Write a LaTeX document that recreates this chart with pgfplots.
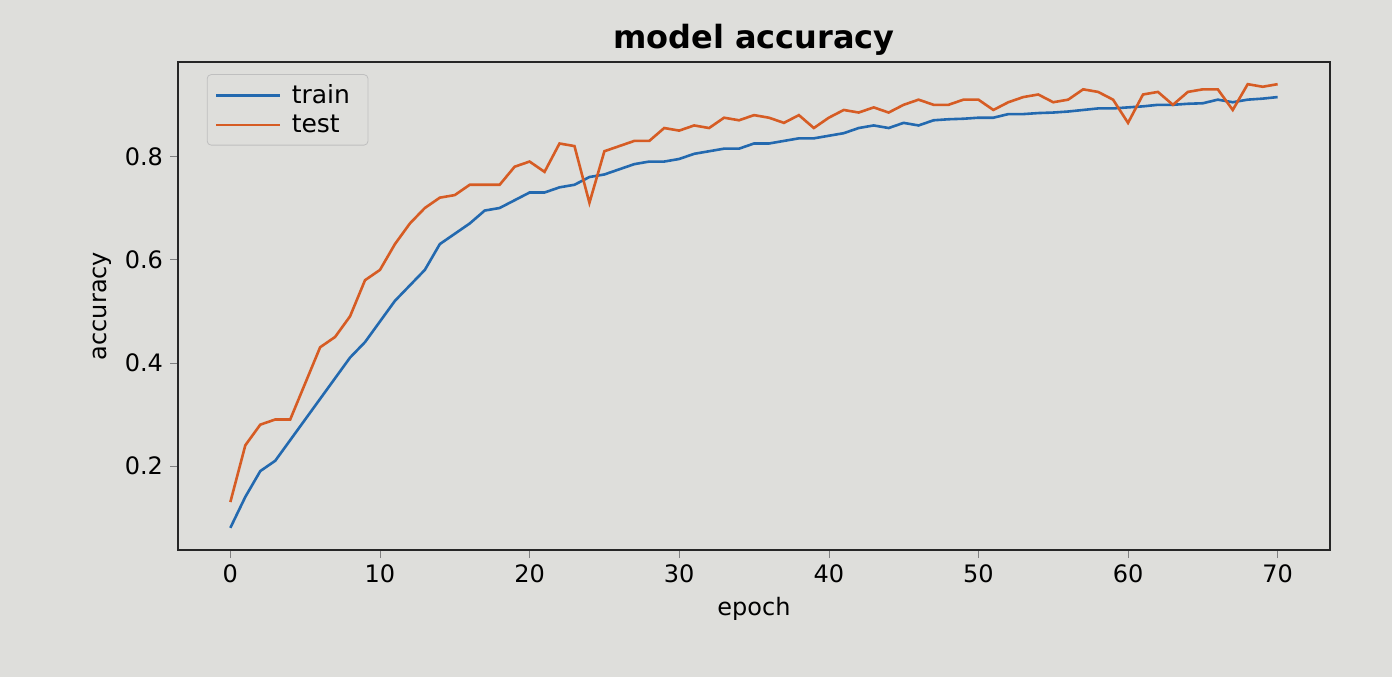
\documentclass[border=0pt]{standalone}
\usepackage{fontspec}
\setmainfont{DejaVu Sans}
\usepackage{pgfplots}
\pgfplotsset{compat=1.18}

\definecolor{photobg}{RGB}{222,222,219}
\definecolor{trainblue}{RGB}{35,105,175}
\definecolor{testorange}{RGB}{214,92,36}

\pgfplotstableread{
epoch train test
0 0.080 0.130
1 0.140 0.240
2 0.190 0.280
3 0.210 0.290
4 0.250 0.290
5 0.290 0.360
6 0.330 0.430
7 0.370 0.450
8 0.410 0.490
9 0.440 0.560
10 0.480 0.580
11 0.520 0.630
12 0.550 0.670
13 0.580 0.700
14 0.630 0.720
15 0.650 0.725
16 0.670 0.745
17 0.695 0.745
18 0.700 0.745
19 0.715 0.780
20 0.730 0.790
21 0.730 0.770
22 0.740 0.825
23 0.745 0.820
24 0.760 0.710
25 0.765 0.810
26 0.775 0.820
27 0.785 0.830
28 0.790 0.830
29 0.790 0.855
30 0.795 0.850
31 0.805 0.860
32 0.810 0.855
33 0.815 0.875
34 0.815 0.870
35 0.825 0.880
36 0.825 0.875
37 0.830 0.865
38 0.835 0.880
39 0.835 0.855
40 0.840 0.875
41 0.845 0.890
42 0.855 0.885
43 0.860 0.895
44 0.855 0.885
45 0.865 0.900
46 0.860 0.910
47 0.870 0.900
48 0.872 0.900
49 0.873 0.910
50 0.875 0.910
51 0.875 0.890
52 0.882 0.905
53 0.882 0.915
54 0.884 0.920
55 0.885 0.905
56 0.887 0.910
57 0.890 0.930
58 0.893 0.925
59 0.893 0.910
60 0.895 0.865
61 0.897 0.920
62 0.900 0.925
63 0.900 0.900
64 0.902 0.925
65 0.903 0.930
66 0.910 0.930
67 0.905 0.890
68 0.910 0.940
69 0.912 0.935
70 0.915 0.940
}\acctable

\begin{document}
\begin{tikzpicture}
\fill[photobg] (0,0) rectangle (696pt,338.5pt);
\useasboundingbox (0,0) rectangle (696pt,338.5pt);
\begin{axis}[
  at={(89pt,63.5pt)}, anchor=south west,
  scale only axis,
  width=576pt, height=244pt,
  xmin=-3.5, xmax=73.5,
  ymin=0.037, ymax=0.983,
  xtick={0,10,...,70},
  ytick={0.2,0.4,0.6,0.8},
  yticklabel style={/pgf/number format/fixed,/pgf/number format/precision=1,/pgf/number format/fixed zerofill},
  /pgf/number format/assume math mode=true,
  tick align=outside,
  tick pos=left,
  major tick length=4pt,
  ticklabel style={font=\fontsize{12}{14}\selectfont},
  axis line style={black!85,line width=0.9pt},
  axis background/.style={fill=photobg},
  xlabel={epoch}, ylabel={accuracy},
  label style={font=\fontsize{12}{14}\selectfont},
  title={\textbf{model accuracy}},
  title style={font=\fontsize{16}{18}\selectfont,yshift=-6pt},
  legend cell align=left,
  legend image code/.code={\draw[#1,line width=1.3pt] (0pt,0pt) -- (32pt,0pt);},
  legend style={at={(0.025,0.975)},anchor=north west,
    font=\fontsize{12.5}{15}\selectfont,draw=black!25,fill=photobg,
    rounded corners=2pt,inner xsep=4pt,inner ysep=3pt,
    nodes={inner xsep=5pt,inner ysep=2pt}},
]
\addplot[trainblue,line width=1.3pt,mark=none] table[x=epoch,y=train] {\acctable};
\addlegendentry{train}
\addplot[testorange,line width=1.3pt,mark=none] table[x=epoch,y=test] {\acctable};
\addlegendentry{test}
\end{axis}
\end{tikzpicture}
\end{document}
